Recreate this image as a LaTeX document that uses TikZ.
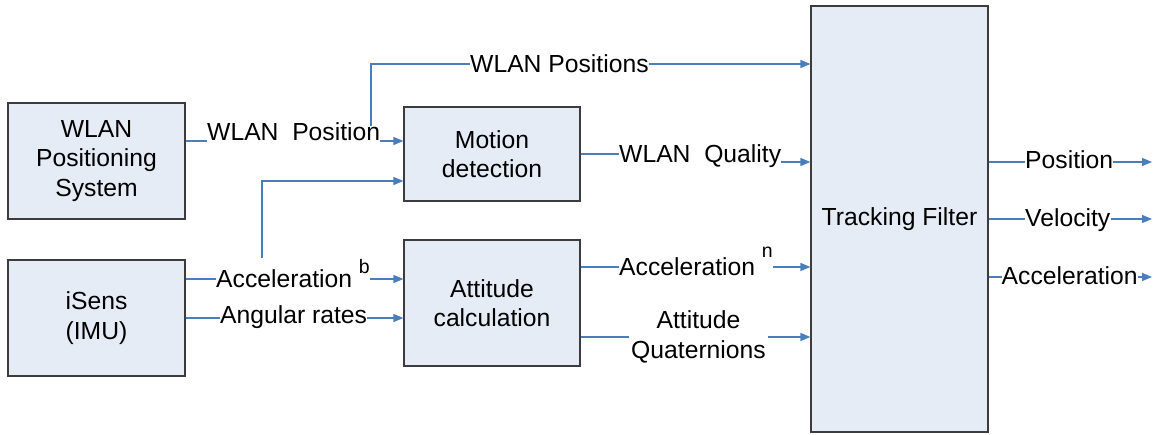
\documentclass[tikz,border=0pt]{standalone}
\usepackage{fontspec}
\setmainfont{Liberation Sans}
\usetikzlibrary{arrows.meta}
\definecolor{boxfill}{RGB}{230,236,246}
\definecolor{boxline}{RGB}{60,60,60}
\definecolor{conn}{RGB}{74,126,187}
\newcommand{\supsc}[2]{\raisebox{#1}{\fontsize{19.5}{22}\selectfont #2}}
\begin{document}
\begin{tikzpicture}[x=1pt,y=-1pt,
  every node/.style={font=\fontsize{24.7}{29.5}\selectfont},
  blockbox/.style={draw=boxline, fill=boxfill, line width=1.2pt, align=center, inner sep=0pt},
  lbl/.style={inner sep=0pt, text height=18pt, text depth=0pt},
  wire/.style={draw=conn, line width=1.3pt},
  arrowwire/.style={wire, -{Triangle[length=10pt,width=8pt]}}
]
\useasboundingbox (0,0) rectangle (1157,435);

% blocks
\node[blockbox, minimum width=177pt, minimum height=116pt] (wps) at (96.5,161) {WLAN\\Positioning\\System};
\node[blockbox, minimum width=177pt, minimum height=116pt] (isens) at (96.5,318) {iSens\\(IMU)};
\node[blockbox, minimum width=176pt, minimum height=94pt] (motion) at (492,154) {Motion\\detection};
\node[blockbox, minimum width=176pt, minimum height=126pt] (att) at (492,303) {Attitude\\calculation};
\node[blockbox, minimum width=177pt, minimum height=426pt] (tf) at (899.5,219) {Tracking Filter};

% labels
\node[lbl, anchor=base west] (lblwp) at (207,141) {WLAN\ \ Position};
\node[lbl, anchor=west] (lblwps) at (470,64) {WLAN Positions};
\node[lbl, anchor=west] (lblab) at (216,279) {Acceleration\ \supsc{14pt}{b}};
\node[lbl, anchor=base west] (lblar) at (220,324) {Angular rates};
\node[lbl, anchor=base west] (lblq) at (619,163) {WLAN\ \ Quality};
\node[lbl, anchor=west] (lblan) at (619,267) {Acceleration\ \supsc{18pt}{n}};
\node[inner xsep=2pt, inner ysep=0pt, align=center] (lblaq) at (698.5,337) {Attitude\\Quaternions};
\node[lbl, anchor=base west] (lblpos) at (1025,169) {Position};
\node[lbl, anchor=base west] (lblvel) at (1025,226.5) {Velocity};
\node[lbl, anchor=base west] (lblacc) at (1001.5,285) {Acceleration};

\coordinate (outend) at (1152,0);

% WLAN position
\draw[wire] (wps.east |- lblwp.base west) -- (lblwp.base west);
\draw[arrowwire] (lblwp.base east) -- (lblwp.base east -| motion.west);
\draw[wire] ([xshift=-9.5pt,yshift=-3.5pt]lblwp.north east) |- (lblwps.west);
\draw[arrowwire] (lblwps.east) -- (lblwps.east -| tf.west);

% acceleration b
\draw[wire] (isens.east |- lblab.west) -- (lblab.west);
\draw[arrowwire] (lblab.east) -- (lblab.east -| att.west);
\draw[arrowwire] ([xshift=46pt,yshift=12pt]lblab.north west) |- ([yshift=-27pt]motion.west);

% angular rates
\draw[wire] (isens.east) -- (isens.east -| lblar.west);
\draw[arrowwire] (isens.east -| lblar.east) -- (isens.east -| att.west);

% WLAN quality
\draw[wire] (motion.east) -- (motion.east -| lblq.west);
\coordinate (qrow) at ([yshift=-8pt]lblq.east);
\draw[arrowwire] (qrow) -- (qrow -| tf.west);

% acceleration n
\draw[wire] (att.east |- lblan.west) -- (lblan.west);
\draw[arrowwire] (lblan.east) -- (lblan.east -| tf.west);

% attitude quaternions
\draw[wire] (att.east |- lblaq.west) -- (lblaq.west);
\draw[arrowwire] (lblaq.east) -- (lblaq.east -| tf.west);

% outputs
\coordinate (prow) at ([yshift=57pt]tf.east);
\draw[wire] (prow) -- (prow -| lblpos.west);
\draw[arrowwire] (prow -| lblpos.east) -- (prow -| outend);
\draw[wire] (tf.east) -- (tf.east -| lblvel.west);
\draw[arrowwire] (tf.east -| lblvel.east) -- (tf.east -| outend);
\coordinate (arow) at ([yshift=-58pt]tf.east);
\draw[wire] (arow) -- (arow -| lblacc.west);
\draw[arrowwire] (arow -| lblacc.east) -- (arow -| outend);
\end{tikzpicture}
\end{document}
